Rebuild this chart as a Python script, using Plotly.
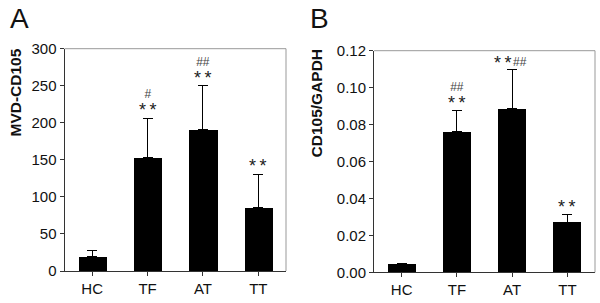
import plotly.graph_objects as go

categories = ["HC", "TF", "AT", "TT"]

# Panel A: MVD-CD105
mvd_values = [19.5, 153, 191, 86]
mvd_errors = [8, 53, 59, 44.5]
mvd_ticks = [0, 50, 100, 150, 200, 250, 300]

# Panel B: CD105/GAPDH
ratio_values = [0.0048, 0.0761, 0.0888, 0.0272]
ratio_errors = [0.0, 0.0113, 0.0211, 0.0041]
ratio_ticks = [0.00, 0.02, 0.04, 0.06, 0.08, 0.10, 0.12]

# significance marks (stars above, hashes above stars; side-by-side when flagged)
mvd_stars = ["", "**", "**", "**"]
mvd_hash = ["", "#", "##", ""]
mvd_side = [False, False, False, False]
ratio_stars = ["", "**", "**", "**"]
ratio_hash = ["", "##", "##", ""]
ratio_side = [False, False, True, False]

W, H = 600, 303
FONT = "Liberation Sans, Arial, sans-serif"
THIN = "\u2009"

def px_x(p):
    return p / W

def px_y(p):
    return 1 - p / H

fig = go.Figure()

err_style = dict(type="data", symmetric=False, color="black", thickness=1, width=5)

fig.add_trace(go.Bar(
    x=categories, y=mvd_values, width=0.51, marker=dict(color="black", line=dict(width=0)),
    error_y=dict(array=mvd_errors, arrayminus=[0] * 4, **err_style),
    xaxis="x", yaxis="y", showlegend=False))

fig.add_trace(go.Bar(
    x=categories, y=ratio_values, width=0.51, marker=dict(color="black", line=dict(width=0)),
    error_y=dict(array=ratio_errors, arrayminus=[0] * 4, **err_style),
    xaxis="x2", yaxis="y2", showlegend=False))

axis_common = dict(showline=True, linecolor="#333", linewidth=1, ticks="outside",
                   ticklen=4, tickcolor="#333", showgrid=False, zeroline=False,
                   automargin=False,
                   tickfont=dict(family=FONT, size=15, color="#111"))

fig.update_layout(
    width=W, height=H, margin=dict(l=0, r=0, t=0, b=0, autoexpand=False),
    paper_bgcolor="white", plot_bgcolor="white", bargap=0,
    xaxis=dict(domain=[px_x(64.5), px_x(286)], range=[-0.5, 3.5], anchor="y", **axis_common),
    yaxis=dict(domain=[px_y(271), px_y(48.7)], range=[0, 300], tickvals=mvd_ticks,
               anchor="x", **axis_common),
    xaxis2=dict(domain=[px_x(374), px_x(595)], range=[-0.5, 3.5], anchor="y2", **axis_common),
    yaxis2=dict(domain=[px_y(272.3), px_y(50.7)], range=[0, 0.12], tickvals=ratio_ticks,
                tickformat=".2f", anchor="x2", **axis_common),
)

# gray top/right frame lines
for xr, yr in (("x", "y"), ("x2", "y2")):
    fig.add_shape(type="line", xref=f"{xr} domain", yref=f"{yr} domain", x0=0, x1=1, y0=1, y1=1,
                  line=dict(color="#999", width=1))
    fig.add_shape(type="line", xref=f"{xr} domain", yref=f"{yr} domain", x0=1, x1=1, y0=0, y1=1,
                  line=dict(color="#999", width=1))

annotations = []

def star_text(s):
    return THIN.join(list(s))

def add_marks(xref, yref, vals, errs, stars, hashes, side):
    for i, c in enumerate(categories):
        top = vals[i] + errs[i]
        if not stars[i]:
            continue
        if side[i]:
            annotations.append(dict(x=c, y=top, xref=xref, yref=yref, text=star_text(stars[i]),
                                    showarrow=False, yanchor="bottom", yshift=-6, xshift=-9,
                                    font=dict(family=FONT, size=18, color="#222")))
            annotations.append(dict(x=c, y=top, xref=xref, yref=yref, text=hashes[i],
                                    showarrow=False, yanchor="bottom", yshift=-2, xshift=8,
                                    font=dict(family=FONT, size=12, color="#444")))
        elif hashes[i]:
            txt = ("<span style='font-size:12px;color:#444'>" + hashes[i] + "</span><br>"
                   "<span style='font-size:18px'>" + star_text(stars[i]) + "</span>")
            annotations.append(dict(x=c, y=top, xref=xref, yref=yref, text=txt,
                                    showarrow=False, yanchor="bottom", yshift=-4,
                                    font=dict(family=FONT, size=14, color="#222")))
        else:
            txt = "<span style='font-size:18px'>" + star_text(stars[i]) + "</span>"
            annotations.append(dict(x=c, y=top, xref=xref, yref=yref, text=txt,
                                    showarrow=False, yanchor="bottom", yshift=-4,
                                    font=dict(family=FONT, size=14, color="#222")))

add_marks("x", "y", mvd_values, mvd_errors, mvd_stars, mvd_hash, mvd_side)
add_marks("x2", "y2", ratio_values, ratio_errors, ratio_stars, ratio_hash, ratio_side)

# axis titles
annotations.append(dict(x=px_x(15), y=px_y(92.5), xref="paper", yref="paper", text="<b>MVD-CD105</b>",
                        textangle=-90, showarrow=False, xanchor="center", yanchor="middle",
                        font=dict(family=FONT, size=15.5, color="#111")))
annotations.append(dict(x=px_x(316), y=px_y(102.5), xref="paper", yref="paper", text="<b>CD105/GAPDH</b>",
                        textangle=-90, showarrow=False, xanchor="center", yanchor="middle",
                        font=dict(family=FONT, size=15.5, color="#111")))

# panel letters
annotations.append(dict(x=px_x(7.5), y=px_y(18), xref="paper", yref="paper", text="A",
                        showarrow=False, xanchor="left", yanchor="middle",
                        font=dict(family=FONT, size=28, color="#111")))
annotations.append(dict(x=px_x(308), y=px_y(18), xref="paper", yref="paper", text="B",
                        showarrow=False, xanchor="left", yanchor="middle",
                        font=dict(family=FONT, size=28, color="#111")))

fig.update_layout(annotations=annotations)

fig.write_html("out.html", config={"displayModeBar": False},
               post_script="document.body.style.margin='0';document.body.style.padding='0';")
